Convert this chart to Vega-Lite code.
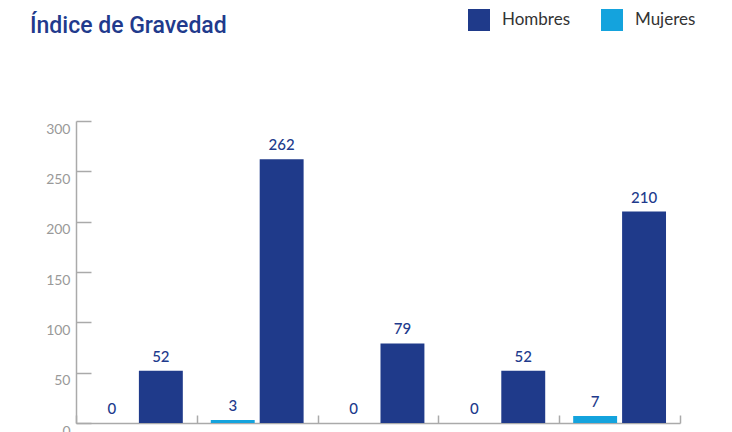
{
  "$schema": "https://vega.github.io/schema/vega-lite/v6.json",
  "width": 604,
  "height": 302,
  "autosize": {"type": "none"},
  "padding": {"left": 76, "top": 121, "right": 52, "bottom": 9},
  "background": "white",
  "config": {"view": {"stroke": null}},
  "title": {
    "text": "Índice de Gravedad",
    "anchor": "start",
    "frame": "group",
    "orient": "top",
    "dx": -46,
    "offset": 0,
    "dy": 47,
    "baseline": "alphabetic",
    "font": "Roboto",
    "fontSize": 23,
    "fontWeight": 500,
    "color": "#213a8c"
  },
  "data": {
    "values": [
      {"grupo": "Grupo 1", "sexo": "Mujeres", "valor": 0},
      {"grupo": "Grupo 1", "sexo": "Hombres", "valor": 52},
      {"grupo": "Grupo 2", "sexo": "Mujeres", "valor": 3},
      {"grupo": "Grupo 2", "sexo": "Hombres", "valor": 262},
      {"grupo": "Grupo 3", "sexo": "Mujeres", "valor": 0},
      {"grupo": "Grupo 3", "sexo": "Hombres", "valor": 79},
      {"grupo": "Grupo 4", "sexo": "Mujeres", "valor": 0},
      {"grupo": "Grupo 4", "sexo": "Hombres", "valor": 52},
      {"grupo": "Grupo 5", "sexo": "Mujeres", "valor": 7},
      {"grupo": "Grupo 5", "sexo": "Hombres", "valor": 210}
    ]
  },
  "encoding": {
    "x": {
      "field": "grupo",
      "type": "nominal",
      "scale": {"paddingInner": 0, "paddingOuter": 0},
      "axis": {
        "title": null,
        "labels": false,
        "tickBand": "extent",
        "tickSize": -8,
        "tickColor": "#aaaaaa",
        "tickWidth": 1.5,
        "domainColor": "#aaaaaa",
        "domainWidth": 1.5
      }
    },
    "xOffset": {
      "field": "sexo",
      "type": "nominal",
      "sort": ["Mujeres", "Hombres"],
      "scale": {"paddingInner": 0.102, "paddingOuter": 0.286}
    },
    "y": {
      "field": "valor",
      "type": "quantitative",
      "scale": {"domain": [0, 300], "nice": false},
      "axis": {
        "title": null,
        "values": [0, 50, 100, 150, 200, 250, 300],
        "grid": false,
        "tickSize": -15,
        "tickColor": "#aaaaaa",
        "tickWidth": 1.5,
        "domainColor": "#aaaaaa",
        "domainWidth": 1.5,
        "labelPadding": 21,
        "labelBaseline": "top",
        "labelOffset": 1,
        "labelColor": "#999999",
        "labelFont": "Lato",
        "labelFontSize": 14
      }
    }
  },
  "layer": [
    {
      "mark": {"type": "bar"},
      "encoding": {
        "color": {
          "field": "sexo",
          "type": "nominal",
          "scale": {"domain": ["Hombres", "Mujeres"], "range": ["#1f3a8a", "#14a3dd"]},
          "legend": {
            "title": null,
            "orient": "none",
            "legendX": 392,
            "legendY": -112,
            "direction": "horizontal",
            "columns": 2,
            "symbolType": "square",
            "symbolSize": 484,
            "symbolStrokeWidth": 0,
            "symbolOpacity": 1,
            "labelOffset": 12,
            "columnPadding": 30,
            "labelFont": "Lato",
            "labelFontSize": 17,
            "labelColor": "#333333"
          }
        }
      }
    },
    {
      "mark": {
        "type": "text",
        "baseline": "bottom",
        "dy": -6,
        "font": "Lato",
        "fontSize": 15,
        "fontWeight": 500,
        "color": "#213a8c"
      },
      "encoding": {
        "text": {"field": "valor", "type": "quantitative"}
      }
    }
  ]
}
